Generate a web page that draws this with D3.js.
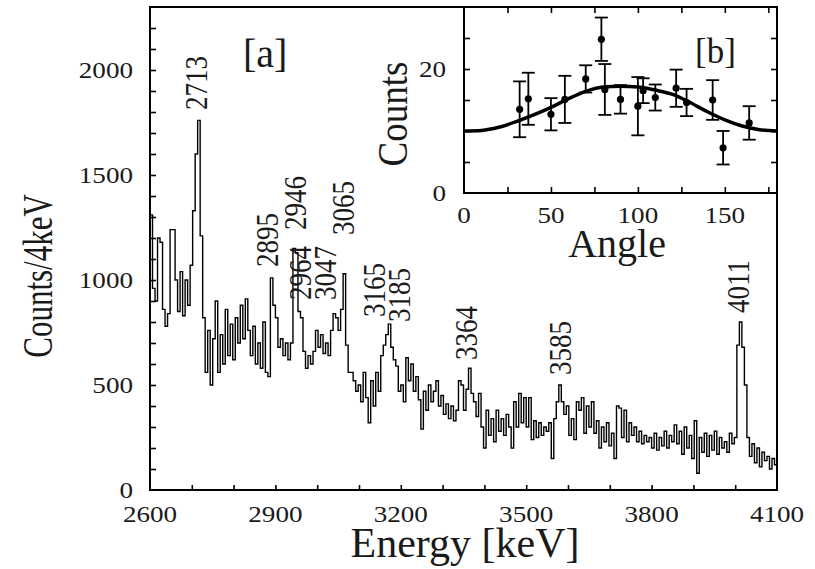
<!DOCTYPE html>
<html>
<head>
<meta charset="utf-8">
<script src="https://cdn.jsdelivr.net/npm/d3@7"></script>
<style>
  body { margin: 0; background: #fff; }
  text { font-family: "Liberation Serif", "Times New Roman", serif; }
</style>
</head>
<body>
<svg id="chart" width="815" height="569"></svg>
<script>
// spectrum, 6 keV bins starting at 2600 keV (counts)
let binStart = 2600, binWidth = 6;
let counts = [
  1310, 960, 900, 1200, 1180, 860, 780, 840, 1240, 1240,
  1000, 850, 1040, 830, 1000, 880, 1070, 1330, 1600, 1760,
  1210, 820, 560, 760, 500, 720, 900, 560, 740, 600,
  860, 640, 790, 620, 820, 700, 880, 720, 910, 760,
  640, 780, 600, 700, 580, 800, 560, 540, 1010, 880,
  820, 680, 720, 640, 700, 620, 700, 1150, 1130, 850,
  820, 660, 580, 640, 600, 660, 760, 680, 740, 650,
  700, 640, 760, 840, 820, 760, 860, 1030, 690, 560,
  560, 520, 470, 500, 420, 560, 440, 320, 520, 400,
  560, 470, 640, 690, 740, 790, 680, 620, 590, 470,
  500, 420, 630, 520, 600, 470, 540, 430, 290, 470,
  380, 500, 420, 470, 520, 400, 450, 360, 410, 340,
  400, 330, 380, 520, 500, 380, 480, 580, 460, 420,
  350, 460, 300, 200, 380, 260, 340, 230, 380, 280,
  340, 260, 360, 300, 200, 420, 300, 460, 320, 440,
  300, 440, 240, 330, 250, 320, 260, 300, 280, 320,
  150, 340, 420, 500, 420, 360, 400, 260, 340, 240,
  420, 380, 440, 270, 400, 300, 420, 270, 330, 200,
  300, 230, 320, 210, 270, 150, 400, 390, 250, 380,
  230, 320, 260, 300, 230, 280, 220, 260, 230, 250,
  200, 270, 190, 250, 210, 280, 200, 260, 230, 310,
  220, 280, 170, 300, 200, 260, 150, 330, 80, 250,
  180, 270, 160, 260, 190, 280, 170, 250, 200, 230,
  180, 270, 220, 250, 690, 800, 680, 500, 250, 160,
  220, 130, 200, 110, 180, 140, 160, 100, 150, 120
];

// peak annotations: text, energy under the label, count level where label starts
let peakNames = ["2713", "2895", "2946", "2964", "3047", "3065", "3165", "3185", "3364", "3585", "4011"];
let peakLabelE = [2712, 2880, 2949, 2959, 3019, 3064, 3136, 3196, 3358, 3581, 4007];
let peakLabelC = [1810, 1062, 1238, 905, 905, 1214, 824, 800, 619, 548, 843];

let xTicks = [2600, 2900, 3200, 3500, 3800, 4100];
let yTicks = [0, 500, 1000, 1500, 2000];

// inset [b]: angular distribution
let angles = [32, 37, 50, 58, 70, 79, 81, 90, 100, 103, 110, 122, 128, 143, 149, 164];
let angCounts = [13.5, 15.2, 12.7, 15.1, 18.4, 24.8, 16.7, 15.1, 14.0, 16.5, 15.4, 16.9, 14.6, 15.0, 7.3, 11.3];
let angErrors = [4.5, 4.2, 2.6, 3.8, 2.2, 3.5, 4.1, 2.3, 4.7, 2.0, 2.1, 3.0, 2.2, 3.2, 2.7, 2.7];
let fitAngles = [0, 10, 20, 30, 40, 50, 60, 70, 80, 90, 100, 110, 120, 130, 140, 150, 160, 170, 180];
let fitCounts = [10, 10.1, 10.6, 11.5, 12.6, 13.8, 15.2, 16.4, 17.1, 17.2, 17.1, 16.6, 15.9, 14.6, 13.1, 11.8, 10.8, 10.2, 10.0];
let insetXTicks = [0, 50, 100, 150];
let insetYTicks = [0, 20];

let svg = d3.select("#chart");
svg.append("rect").attr("width", 815).attr("height", 569).attr("fill", "#fff");

let x = d3.scaleLinear().domain([2600, 4100]).range([150, 777]);
let y = d3.scaleLinear().domain([0, 2300]).range([490, 7]);

let ix = d3.scaleLinear().domain([0, 180]).range([464, 777]);
let iy = d3.scaleLinear().domain([0, 30]).range([193, 7]);

// text helper, sx stretches glyphs horizontally like the original figure
function addText(str, px, py, size, sx, rot, anchor) {
  return svg.append("text")
    .attr("transform", "translate(" + px + "," + py + ") scale(" + sx + ",1)" + (rot ? " rotate(-90)" : ""))
    .attr("font-size", size)
    .attr("text-anchor", anchor)
    .attr("fill", "#1a1a1a")
    .text(str);
}

// spectrum as a step histogram
let pts = counts.map((c, i) => [binStart + i * binWidth, c]);
pts.push([binStart + counts.length * binWidth, counts[counts.length - 1]]);
let stepLine = d3.line()
  .x(d => x(d[0]))
  .y(d => y(d[1]))
  .curve(d3.curveStepAfter);
svg.append("path")
  .datum(pts)
  .attr("d", stepLine)
  .attr("fill", "none")
  .attr("stroke", "#000")
  .attr("stroke-width", 1.4);

// main axes ticks (inward)
let xAxis = d3.axisBottom(x).tickValues(d3.range(2700, 4100, 100)).tickSize(-5).tickFormat("");
let yAxis = d3.axisLeft(y).tickValues(d3.range(100, 2300, 100)).tickSize(-6).tickFormat("");
let xg = svg.append("g").attr("transform", "translate(0,490)").call(xAxis);
let yg = svg.append("g").attr("transform", "translate(150,0)").call(yAxis);
[xg, yg].forEach(g => {
  g.select(".domain").remove();
  g.selectAll("line").attr("stroke", "#000").attr("stroke-width", 1.6);
});

svg.append("rect")
  .attr("x", 150).attr("y", 7).attr("width", 627).attr("height", 483)
  .attr("fill", "none").attr("stroke", "#000").attr("stroke-width", 2);

yTicks.forEach(v => addText(v, 133, y(v) + 8, 24, 1.13, false, "end"));
xTicks.forEach(v => addText(v, x(v), 522, 24, 1.13, false, "middle"));

addText("Counts/4keV", 52, 276, 31, 1.35, true, "middle");
addText("Energy [keV]", 465, 557, 42, 1, false, "middle");
addText("[a]", 243, 67, 40, 1, false, "start");

// peak labels
peakNames.forEach((p, i) => {
  addText(p, x(peakLabelE[i]) + 10.5, y(peakLabelC[i]), 27, 1.15, true, "start");
});

// ---- inset [b] ----
svg.append("rect")
  .attr("x", 464).attr("y", 7).attr("width", 313).attr("height", 186)
  .attr("fill", "#fff");

let fitLine = d3.line()
  .x((d, i) => ix(fitAngles[i]))
  .y(d => iy(d))
  .curve(d3.curveMonotoneX);
svg.append("path")
  .datum(fitCounts)
  .attr("d", fitLine)
  .attr("fill", "none")
  .attr("stroke", "#000")
  .attr("stroke-width", 3.5);

let bars = svg.append("g").attr("stroke", "#000").attr("stroke-width", 1.8);
angles.forEach((a, i) => {
  let cx = ix(a);
  let top = iy(angCounts[i] + angErrors[i]);
  let bot = iy(angCounts[i] - angErrors[i]);
  bars.append("line").attr("x1", cx).attr("x2", cx).attr("y1", top).attr("y2", bot);
  bars.append("line").attr("x1", cx - 6.5).attr("x2", cx + 6.5).attr("y1", top).attr("y2", top);
  bars.append("line").attr("x1", cx - 6.5).attr("x2", cx + 6.5).attr("y1", bot).attr("y2", bot);
});
svg.append("g").selectAll("circle")
  .data(angles)
  .enter().append("circle")
  .attr("cx", d => ix(d))
  .attr("cy", (d, i) => iy(angCounts[i]))
  .attr("r", 3.6)
  .attr("fill", "#000");

let ixTickVals = d3.range(25, 180, 25);
let iyTickVals = d3.range(5, 30, 5);
let insetAxes = [
  svg.append("g").attr("transform", "translate(0,193)").call(d3.axisBottom(ix).tickValues(ixTickVals).tickSize(-6).tickFormat("")),
  svg.append("g").attr("transform", "translate(0,7)").call(d3.axisTop(ix).tickValues(ixTickVals).tickSize(-6).tickFormat("")),
  svg.append("g").attr("transform", "translate(464,0)").call(d3.axisLeft(iy).tickValues(iyTickVals).tickSize(-6).tickFormat("")),
  svg.append("g").attr("transform", "translate(777,0)").call(d3.axisRight(iy).tickValues(iyTickVals).tickSize(-6).tickFormat(""))
];
insetAxes.forEach(g => {
  g.select(".domain").remove();
  g.selectAll("line").attr("stroke", "#000").attr("stroke-width", 1.6);
});

svg.append("rect")
  .attr("x", 464).attr("y", 7).attr("width", 313).attr("height", 186)
  .attr("fill", "none").attr("stroke", "#000").attr("stroke-width", 2);

insetYTicks.forEach(v => addText(v, 446, iy(v) + 8, 24, 1.13, false, "end"));
insetXTicks.forEach(v => addText(v, ix(v), 223, 24, 1.13, false, "middle"));

addText("Counts", 407, 114, 37, 1.16, true, "middle");
addText("Angle", 617, 257, 40, 1, false, "middle");
addText("[b]", 695, 63, 35, 1, false, "start");
</script>
</body>
</html>
